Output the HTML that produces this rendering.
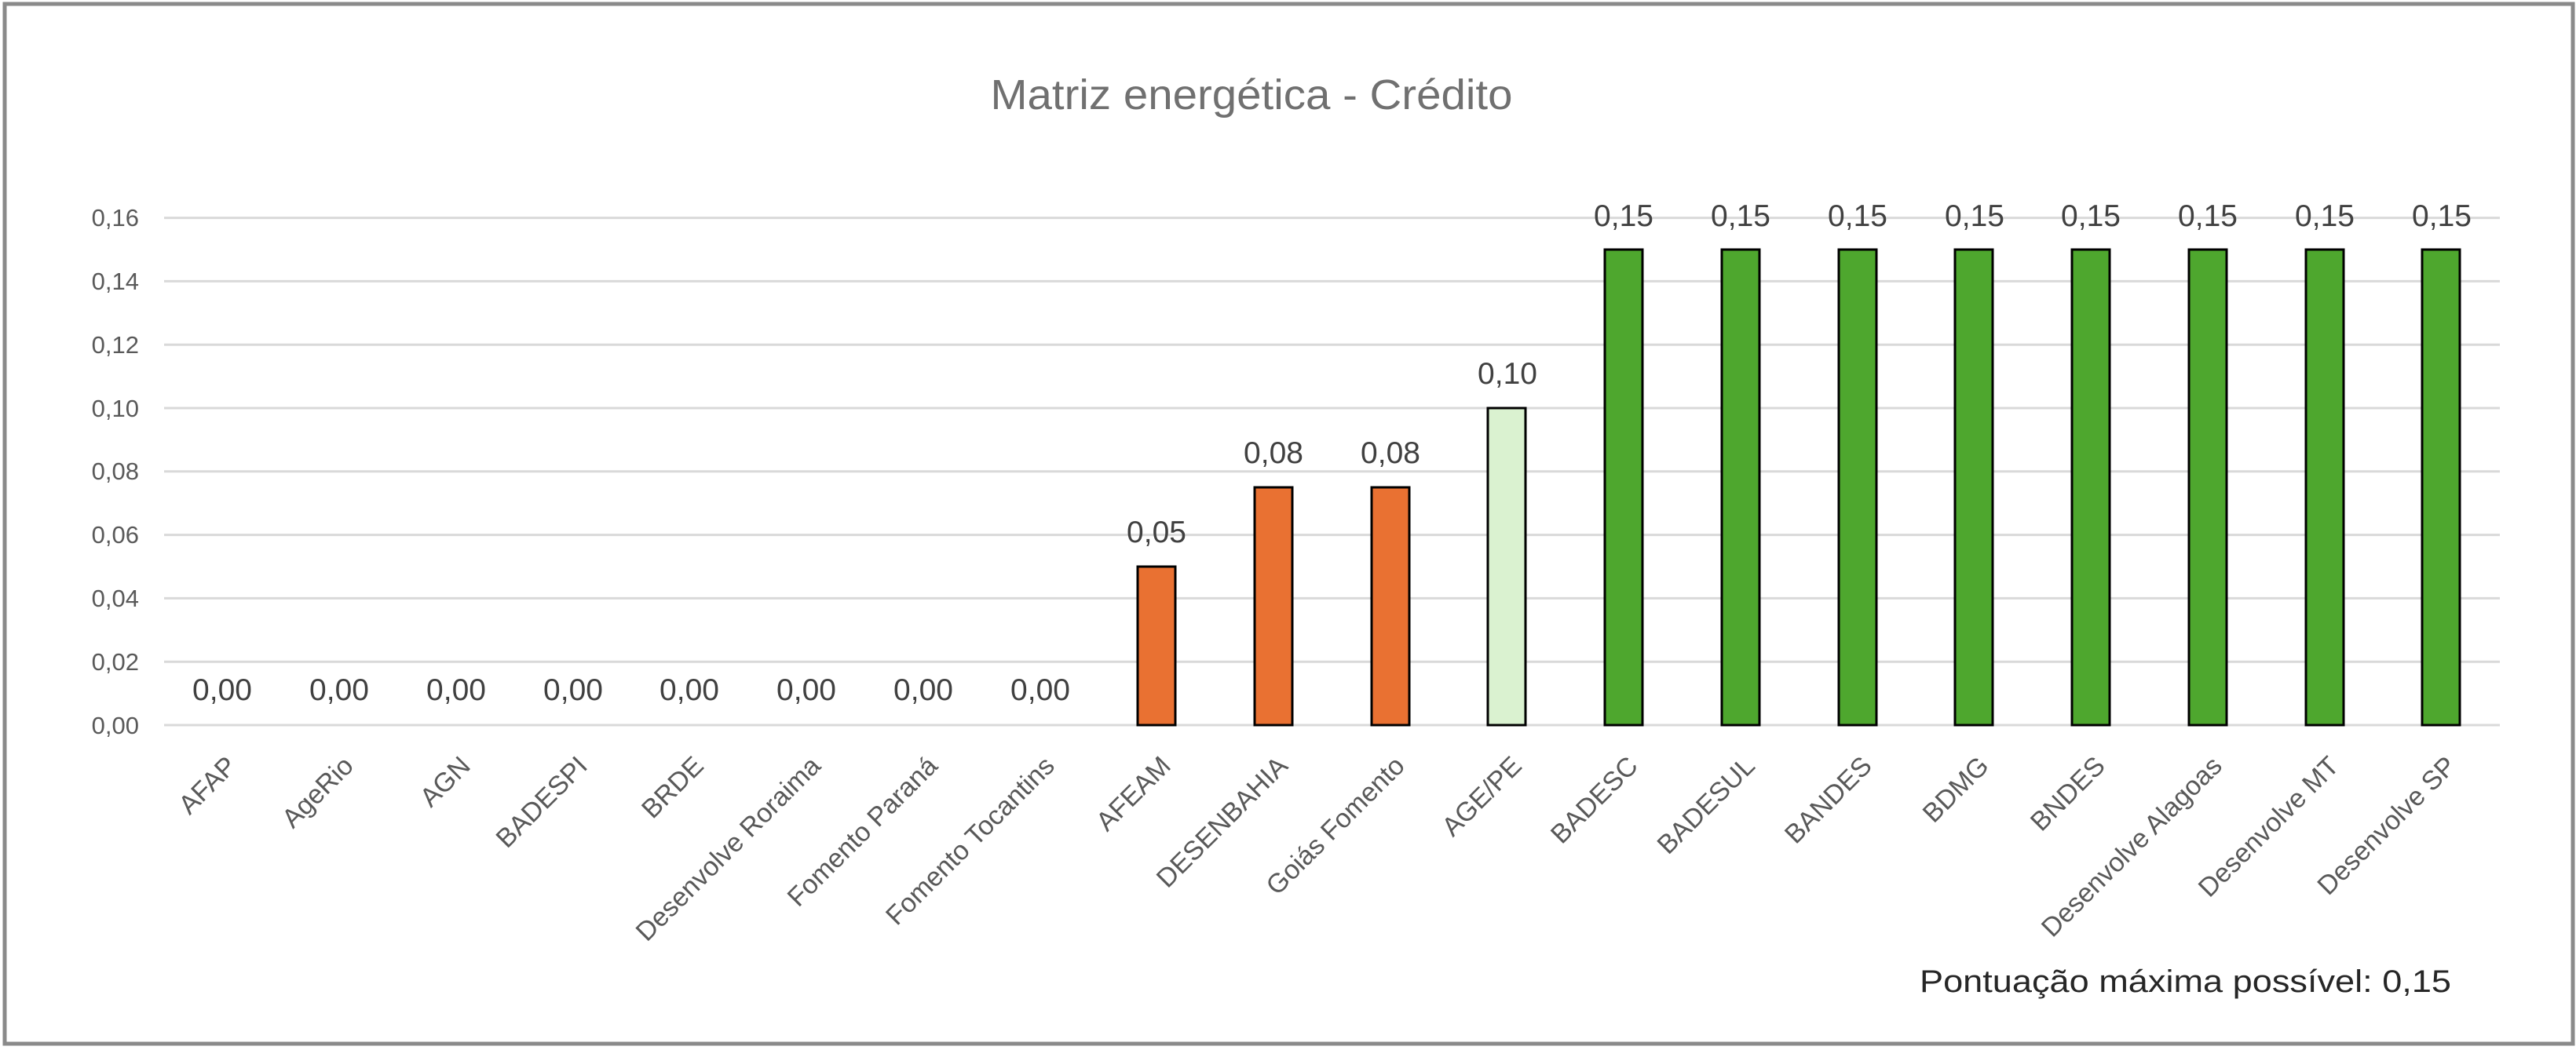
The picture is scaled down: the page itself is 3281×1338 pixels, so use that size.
<!DOCTYPE html>
<html><head><meta charset="utf-8"><style>html,body{margin:0;padding:0;background:#fff}svg{display:block}</style></head>
<body>
<svg width="3281" height="1338" viewBox="0 0 3281 1338" xmlns="http://www.w3.org/2000/svg" font-family="'Liberation Sans', sans-serif">
<rect x="0" y="0" width="3281" height="1338" fill="#fff"/>
<rect x="6" y="5" width="3271" height="1325" fill="none" stroke="#8a8a8a" stroke-width="5"/>
<text x="1594" y="139" text-anchor="middle" font-size="54" fill="#707070" textLength="665" lengthAdjust="spacingAndGlyphs">Matriz energética - Crédito</text>
<g stroke="#d9d9d9" stroke-width="3">
<line x1="209" x2="3184" y1="277.6" y2="277.6"/>
<line x1="209" x2="3184" y1="358.4" y2="358.4"/>
<line x1="209" x2="3184" y1="439.2" y2="439.2"/>
<line x1="209" x2="3184" y1="520" y2="520"/>
<line x1="209" x2="3184" y1="600.8" y2="600.8"/>
<line x1="209" x2="3184" y1="681.6" y2="681.6"/>
<line x1="209" x2="3184" y1="762.4" y2="762.4"/>
<line x1="209" x2="3184" y1="843.2" y2="843.2"/>
<line x1="209" x2="3184" y1="924" y2="924"/>
</g>
<g font-size="31" fill="#595959" text-anchor="end">
<text x="177" y="288">0,16</text>
<text x="177" y="369">0,14</text>
<text x="177" y="450">0,12</text>
<text x="177" y="531">0,10</text>
<text x="177" y="611">0,08</text>
<text x="177" y="692">0,06</text>
<text x="177" y="773">0,04</text>
<text x="177" y="854">0,02</text>
<text x="177" y="935">0,00</text>
</g>
<g stroke="#000" stroke-width="3">
<rect x="1449" y="722" width="48" height="202" fill="#E97132"/>
<rect x="1598" y="621" width="48" height="303" fill="#E97132"/>
<rect x="1747" y="621" width="48" height="303" fill="#E97132"/>
<rect x="1895" y="520" width="48" height="404" fill="#DAF2D0"/>
<rect x="2044" y="318" width="48" height="606" fill="#4EA72E"/>
<rect x="2193" y="318" width="48" height="606" fill="#4EA72E"/>
<rect x="2342" y="318" width="48" height="606" fill="#4EA72E"/>
<rect x="2490" y="318" width="48" height="606" fill="#4EA72E"/>
<rect x="2639" y="318" width="48" height="606" fill="#4EA72E"/>
<rect x="2788" y="318" width="48" height="606" fill="#4EA72E"/>
<rect x="2937" y="318" width="48" height="606" fill="#4EA72E"/>
<rect x="3085" y="318" width="48" height="606" fill="#4EA72E"/>
</g>
<g font-size="39" fill="#404040" text-anchor="middle">
<text x="283" y="892">0,00</text>
<text x="432" y="892">0,00</text>
<text x="581" y="892">0,00</text>
<text x="730" y="892">0,00</text>
<text x="878" y="892">0,00</text>
<text x="1027" y="892">0,00</text>
<text x="1176" y="892">0,00</text>
<text x="1325" y="892">0,00</text>
<text x="1473" y="691">0,05</text>
<text x="1622" y="590">0,08</text>
<text x="1771" y="590">0,08</text>
<text x="1920" y="489">0,10</text>
<text x="2068" y="288">0,15</text>
<text x="2217" y="288">0,15</text>
<text x="2366" y="288">0,15</text>
<text x="2515" y="288">0,15</text>
<text x="2663" y="288">0,15</text>
<text x="2812" y="288">0,15</text>
<text x="2961" y="288">0,15</text>
<text x="3110" y="288">0,15</text>
</g>
<g font-size="34" fill="#595959" text-anchor="end">
<text transform="translate(303,978) rotate(-45)">AFAP</text>
<text transform="translate(452,978) rotate(-45)">AgeRio</text>
<text transform="translate(601,978) rotate(-45)">AGN</text>
<text transform="translate(750,978) rotate(-45)">BADESPI</text>
<text transform="translate(898,978) rotate(-45)">BRDE</text>
<text transform="translate(1047,978) rotate(-45)">Desenvolve Roraima</text>
<text transform="translate(1196,978) rotate(-45)">Fomento Paraná</text>
<text transform="translate(1345,978) rotate(-45)">Fomento Tocantins</text>
<text transform="translate(1493,978) rotate(-45)">AFEAM</text>
<text transform="translate(1642,978) rotate(-45)">DESENBAHIA</text>
<text transform="translate(1791,978) rotate(-45)">Goiás Fomento</text>
<text transform="translate(1940,978) rotate(-45)">AGE/PE</text>
<text transform="translate(2088,978) rotate(-45)">BADESC</text>
<text transform="translate(2237,978) rotate(-45)">BADESUL</text>
<text transform="translate(2386,978) rotate(-45)">BANDES</text>
<text transform="translate(2535,978) rotate(-45)">BDMG</text>
<text transform="translate(2683,978) rotate(-45)">BNDES</text>
<text transform="translate(2832,978) rotate(-45)">Desenvolve Alagoas</text>
<text transform="translate(2981,978) rotate(-45)">Desenvolve MT</text>
<text transform="translate(3130,978) rotate(-45)">Desenvolve SP</text>
</g>
<text x="2445" y="1264" font-size="40" fill="#262626" textLength="677" lengthAdjust="spacingAndGlyphs">Pontuação máxima possível:  0,15</text>
</svg>
</body></html>
